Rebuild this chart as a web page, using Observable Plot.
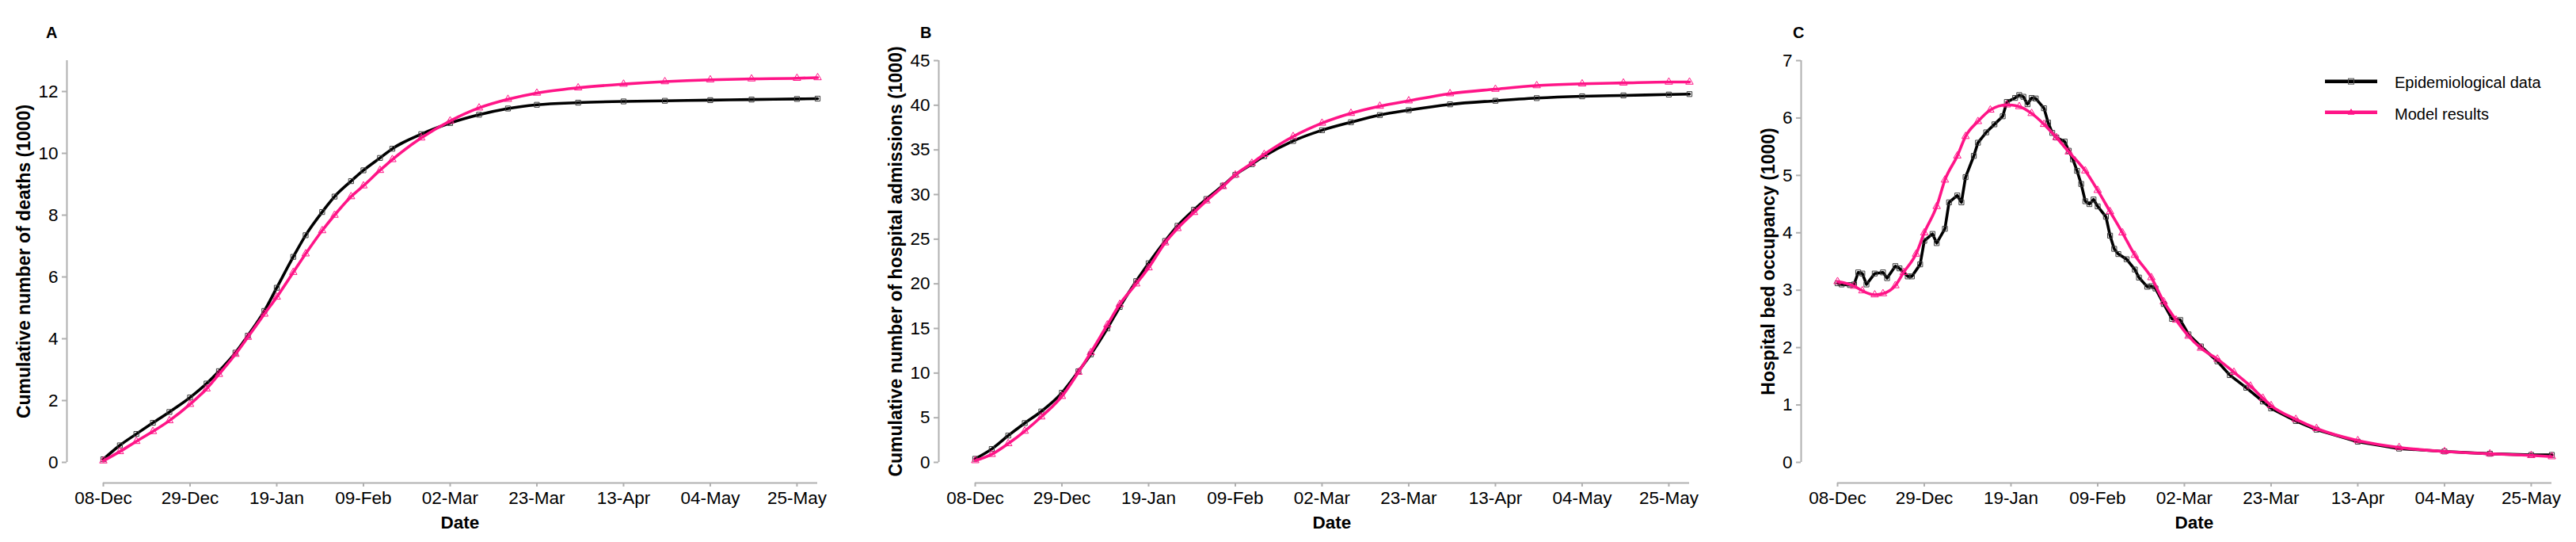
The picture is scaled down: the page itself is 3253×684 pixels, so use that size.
<!DOCTYPE html>
<html>
<head>
<meta charset="utf-8">
<script src="https://cdn.jsdelivr.net/npm/d3@7"></script>
<script src="https://cdn.jsdelivr.net/npm/@observablehq/plot@0.6"></script>
<style>
  html, body { margin: 0; padding: 0; background: #fff; }
  #wrap { position: relative; width: 3253px; height: 684px; overflow: hidden; font-family: "Liberation Sans", Arial, sans-serif; }
  .panel { position: absolute; top: 0; }
  #overlay { position: absolute; left: 0; top: 0; pointer-events: none; }
</style>
</head>
<body>
<div id="wrap"></div>
<script>
// ---------------- DATA ----------------
const startDate = "2020-12-08";
const endDay = 173; // 30-May
const xTickDays = [0, 21, 42, 63, 84, 105, 126, 147, 168];

// Panels A & B: day offsets from 08-Dec
const daysAB = [0, 4, 8, 12, 16, 21, 25, 28, 32, 35, 39, 42, 46, 49, 53, 56, 60, 63, 67, 70, 77, 84, 91, 98, 105, 115, 126, 136, 147, 157, 168, 173];

// A: cumulative deaths (1000)
const deathsData  = [0.10, 0.55, 0.92, 1.28, 1.63, 2.10, 2.55, 2.95, 3.55, 4.10, 4.90, 5.65, 6.65, 7.35, 8.10, 8.60, 9.10, 9.45, 9.85, 10.15, 10.62, 10.98, 11.25, 11.45, 11.57, 11.64, 11.68, 11.70, 11.72, 11.74, 11.76, 11.77];
const deathsModel = [0.05, 0.35, 0.68, 1.00, 1.35, 1.88, 2.38, 2.85, 3.50, 4.05, 4.80, 5.35, 6.15, 6.75, 7.50, 8.00, 8.60, 8.95, 9.45, 9.80, 10.50, 11.05, 11.47, 11.75, 11.95, 12.12, 12.24, 12.32, 12.38, 12.41, 12.43, 12.45];

// B: cumulative hospital admissions (1000)
const admData  = [0.4, 1.5, 3.0, 4.4, 5.7, 7.8, 10.2, 12.1, 15.0, 17.4, 20.3, 22.3, 24.8, 26.5, 28.3, 29.5, 31.0, 32.2, 33.4, 34.3, 36.0, 37.2, 38.1, 38.9, 39.45, 40.1, 40.5, 40.8, 41.0, 41.1, 41.2, 41.25];
const admModel = [0.2, 0.9, 2.1, 3.5, 5.1, 7.4, 10.1, 12.3, 15.4, 17.7, 20.0, 21.8, 24.6, 26.2, 28.0, 29.3, 30.9, 32.2, 33.5, 34.5, 36.5, 38.0, 39.1, 39.9, 40.5, 41.3, 41.8, 42.2, 42.4, 42.5, 42.6, 42.6];

// C: hospital bed occupancy (1000)
const bedDataDays = [0, 1, 3, 4, 5, 6, 7, 9, 11, 12, 14, 15, 17, 18, 20, 21, 23, 24, 26, 27, 29, 30, 31, 33, 34, 36, 38, 40, 41, 43, 44, 45, 46, 47, 48, 50, 51, 52, 53, 55, 56, 57, 58, 59, 60, 61, 62, 63, 65, 66, 67, 68, 70, 72, 73, 75, 76, 77, 79, 81, 83, 85, 88, 92, 95, 99, 103, 105, 111, 116, 126, 136, 147, 158, 168, 173];
const bedData = [3.12, 3.10, 3.09, 3.10, 3.31, 3.29, 3.10, 3.29, 3.31, 3.21, 3.42, 3.38, 3.24, 3.24, 3.45, 3.86, 3.98, 3.82, 4.07, 4.53, 4.65, 4.53, 4.97, 5.34, 5.57, 5.75, 5.89, 6.03, 6.28, 6.35, 6.40, 6.37, 6.24, 6.35, 6.34, 6.17, 5.92, 5.74, 5.66, 5.59, 5.43, 5.28, 5.08, 4.85, 4.55, 4.50, 4.58, 4.46, 4.28, 3.95, 3.72, 3.63, 3.54, 3.36, 3.22, 3.06, 3.07, 3.03, 2.76, 2.50, 2.48, 2.23, 2.02, 1.76, 1.52, 1.30, 1.06, 0.94, 0.72, 0.57, 0.36, 0.24, 0.19, 0.15, 0.13, 0.13];
const bedModelDays = [0, 4, 6, 9, 11, 14, 16, 19, 21, 24, 26, 29, 31, 34, 37, 41, 44, 47, 50, 53, 56, 60, 63, 66, 69, 72, 76, 79, 82, 85, 88, 92, 96, 100, 103, 105, 111, 116, 126, 136, 147, 158, 168, 173];
const bedModel = [3.15, 3.07, 2.99, 2.92, 2.94, 3.08, 3.31, 3.63, 4.00, 4.46, 4.92, 5.34, 5.68, 5.94, 6.14, 6.23, 6.20, 6.08, 5.89, 5.66, 5.41, 5.08, 4.74, 4.37, 4.00, 3.61, 3.22, 2.80, 2.48, 2.20, 1.99, 1.80, 1.57, 1.33, 1.12, 0.99, 0.75, 0.59, 0.38, 0.26, 0.19, 0.15, 0.12, 0.10];

const seriesNames = ["Epidemiological data", "Model results"];
const panelLetters = ["A", "B", "C"];
const yTitles = ["Cumulative number of deaths (1000)", "Cumulative number of hospital admissions (1000)", "Hospital bed occupancy (1000)"];
const yTicksA = [0, 2, 4, 6, 8, 10, 12], yTopA = 13;
const yTicksB = [0, 5, 10, 15, 20, 25, 30, 35, 40, 45], yTopB = 45;
const yTicksC = [0, 1, 2, 3, 4, 5, 6, 7], yTopC = 7;

// ---------------- STYLE ----------------
const BLACK = "#000000", PINK = "#FF1487", AXIS = "#b0b0b0";
const FONT = "'Liberation Sans', Arial, sans-serif";
const W = 1063, H = 684;

const t0 = new Date(startDate + "T00:00:00Z");
const toDate = d => d3.utcDay.offset(t0, d);
const fmt = d3.utcFormat("%d-%b");
const rows = (days, vals) => days.map((d, i) => ({date: toDate(d), value: vals[i]}));

function panel({epi, model, yTicks, yTop, curveEpi}) {
  const x0 = toDate(0), x1 = toDate(endDay);
  return Plot.plot({
    width: W, height: H,
    marginLeft: 84, marginRight: W - 1032, marginTop: 76, marginBottom: 75,
    style: {fontFamily: FONT, background: "transparent", color: "black", overflow: "visible"},
    x: {type: "utc", domain: [x0, x1], insetLeft: 46},
    y: {domain: [0, yTop], insetBottom: 26},
    marks: [
      Plot.ruleX([x0], {y1: 0, y2: yTop, dx: -46, stroke: AXIS, strokeWidth: 2}),
      Plot.ruleY([0], {x1: x0, x2: x1, dy: 26, stroke: AXIS, strokeWidth: 2}),
      Plot.axisY({ticks: yTicks, tickSize: 6, tickPadding: 5, stroke: AXIS, strokeWidth: 2, fill: "black", fontSize: 22.5, label: null, tickFormat: d => String(d)}),
      Plot.axisX({ticks: xTickDays.map(toDate), tickSize: 5, tickPadding: 6, stroke: AXIS, strokeWidth: 2, fill: "black", fontSize: 22.5, label: null, tickFormat: fmt}),
      Plot.line(epi, {x: "date", y: "value", stroke: BLACK, strokeWidth: 3.6, curve: curveEpi}),
      Plot.dot(epi, {x: "date", y: "value", symbol: "square", r: 3.5, stroke: "#3a3a3a", strokeWidth: 1, fill: "none"}),
      Plot.line(model, {x: "date", y: "value", stroke: PINK, strokeWidth: 3.6, curve: "monotone-x"}),
      Plot.dot(model, {x: "date", y: "value", symbol: "triangle", r: 3.5, stroke: PINK, strokeWidth: 1, fill: "none"})
    ]
  });
}

const wrap = document.getElementById("wrap");
const lefts = [0, 1101, 2190];
const charts = [
  panel({epi: rows(daysAB, deathsData), model: rows(daysAB, deathsModel), yTicks: yTicksA, yTop: yTopA, curveEpi: "monotone-x"}),
  panel({epi: rows(daysAB, admData), model: rows(daysAB, admModel), yTicks: yTicksB, yTop: yTopB, curveEpi: "monotone-x"}),
  panel({epi: rows(bedDataDays, bedData), model: rows(bedModelDays, bedModel), yTicks: yTicksC, yTop: yTopC, curveEpi: "linear"})
];
charts.forEach((c, i) => { c.classList.add("panel"); c.style.left = lefts[i] + "px"; wrap.appendChild(c); });

// ---------------- TEXT OVERLAY (titles, letters, legend) ----------------
const letterX = [58, 1162, 2264];
const titleX = [38, 1139, 2241];
const dateX = [581, 1682, 2771];
let s = `<svg id="overlay" width="3253" height="684" xmlns="http://www.w3.org/2000/svg" font-family="${FONT}">`;
for (let i = 0; i < 3; i++) {
  s += `<text x="${letterX[i]}" y="48" font-size="20" font-weight="bold">${panelLetters[i]}</text>`;
  s += `<text transform="translate(${titleX[i]},330) rotate(-90)" text-anchor="middle" font-size="23" font-weight="bold">${yTitles[i]}</text>`;
  s += `<text x="${dateX[i]}" y="667" text-anchor="middle" font-size="22.5" font-weight="bold">Date</text>`;
}
// legend
s += `<line x1="2936" x2="3002" y1="102.7" y2="102.7" stroke="${BLACK}" stroke-width="4.5"/>`;
s += `<rect x="2965.5" y="99.2" width="7" height="7" fill="none" stroke="#555" stroke-width="1"/>`;
s += `<text x="3024" y="110.7" font-size="20">${seriesNames[0]}</text>`;
s += `<line x1="2936" x2="3002" y1="141.7" y2="141.7" stroke="${PINK}" stroke-width="4.5"/>`;
s += `<path d="M2969,137.7 L2973,144.2 L2965,144.2 Z" fill="${PINK}" stroke="${PINK}" stroke-width="1"/>`;
s += `<text x="3024" y="150.7" font-size="20">${seriesNames[1]}</text>`;
s += `</svg>`;
wrap.insertAdjacentHTML("beforeend", s);
</script>
</body>
</html>
